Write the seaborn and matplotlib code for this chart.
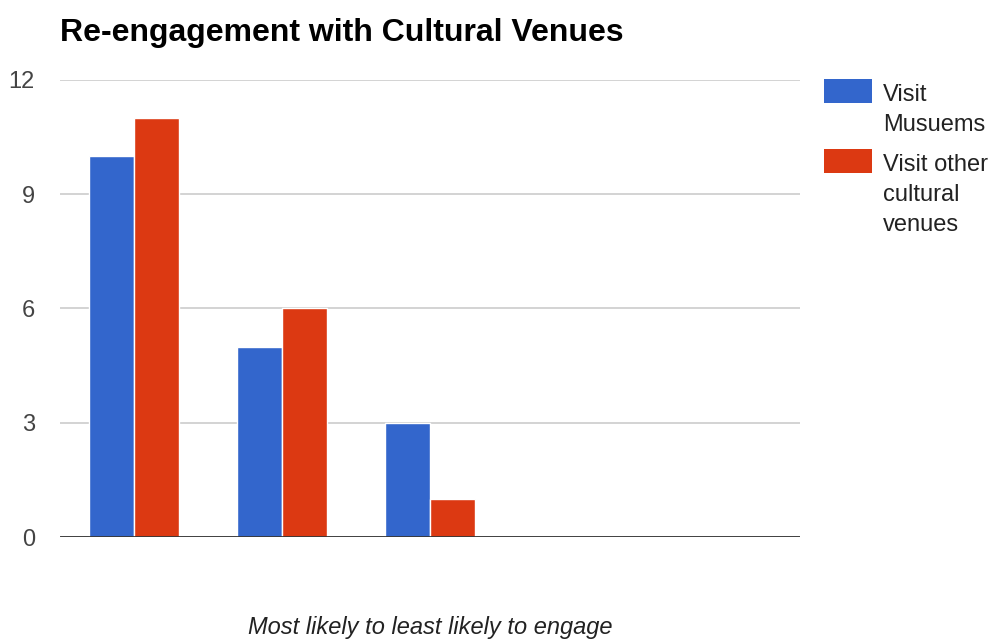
import matplotlib
matplotlib.use("Agg")
import matplotlib.pyplot as plt
from matplotlib.patches import Rectangle
import seaborn as sns
import pandas as pd

# Engagement ranks, from most likely to least likely
ranks = ["1", "2", "3", "4", "5"]
series_names = ["Visit Musuems", "Visit other cultural venues"]
legend_labels = ["Visit\nMusuems", "Visit other\ncultural\nvenues"]
museums = [10, 5, 3, 0, 0]
other_venues = [11, 6, 1, 0, 0]
y_ticks = [0, 3, 6, 9, 12]
colors = ["#3366cc", "#dc3912"]

df = pd.DataFrame({
    "rank": ranks * 2,
    "series": [series_names[0]] * len(ranks) + [series_names[1]] * len(ranks),
    "count": museums + other_venues,
})

sns.set_theme(style="white")
plt.rcParams["font.family"] = ["Liberation Sans", "DejaVu Sans"]

W, H = 995, 641
fig = plt.figure(figsize=(W / 100, H / 100), dpi=100)
ax = fig.add_axes([60 / W, 104 / H, 740 / W, 457 / H])

sns.barplot(data=df, x="rank", y="count", hue="series", order=ranks,
            hue_order=series_names, palette=colors, width=0.61,
            edgecolor="white", linewidth=1, saturation=1, ax=ax, legend=False)

ax.set_xlim(-0.5, len(ranks) - 0.5)
ax.set_ylim(0, 12)
ax.set_yticks(y_ticks)
ax.set_yticklabels([str(v) for v in y_ticks])
ax.tick_params(axis="y", length=0, pad=18, labelsize=17, labelcolor="#444444")
ax.tick_params(axis="x", length=0, labelbottom=False)
for s in ax.spines.values():
    s.set_visible(False)
ax.grid(axis="y", color="#d0d0d0", linewidth=1.3)
ax.set_axisbelow(True)
ax.axhline(0, color="#333333", linewidth=2, zorder=5)

ax.set_xlabel("Most likely to least likely to engage", fontsize=17,
              fontstyle="italic", color="#222222", labelpad=57)
ax.set_ylabel("")
ax.set_title("Re-engagement with Cultural Venues", loc="left", fontsize=23,
             fontweight="bold", color="#000000", pad=28)

# Legend: colour swatch level with the first line of each wrapped label
entry_tops = [79, 149]
for label, color, top in zip(legend_labels, colors, entry_tops):
    fig.add_artist(Rectangle((824 / W, 1 - (top + 24) / H), 48 / W, 24 / H,
                             transform=fig.transFigure, facecolor=color,
                             edgecolor="none"))
    fig.text(883 / W, 1 - (top + 5) / H, label, ha="left", va="top",
             fontsize=17, color="#222222", linespacing=1.47)

fig.savefig("out.png", dpi=100, facecolor="white")
